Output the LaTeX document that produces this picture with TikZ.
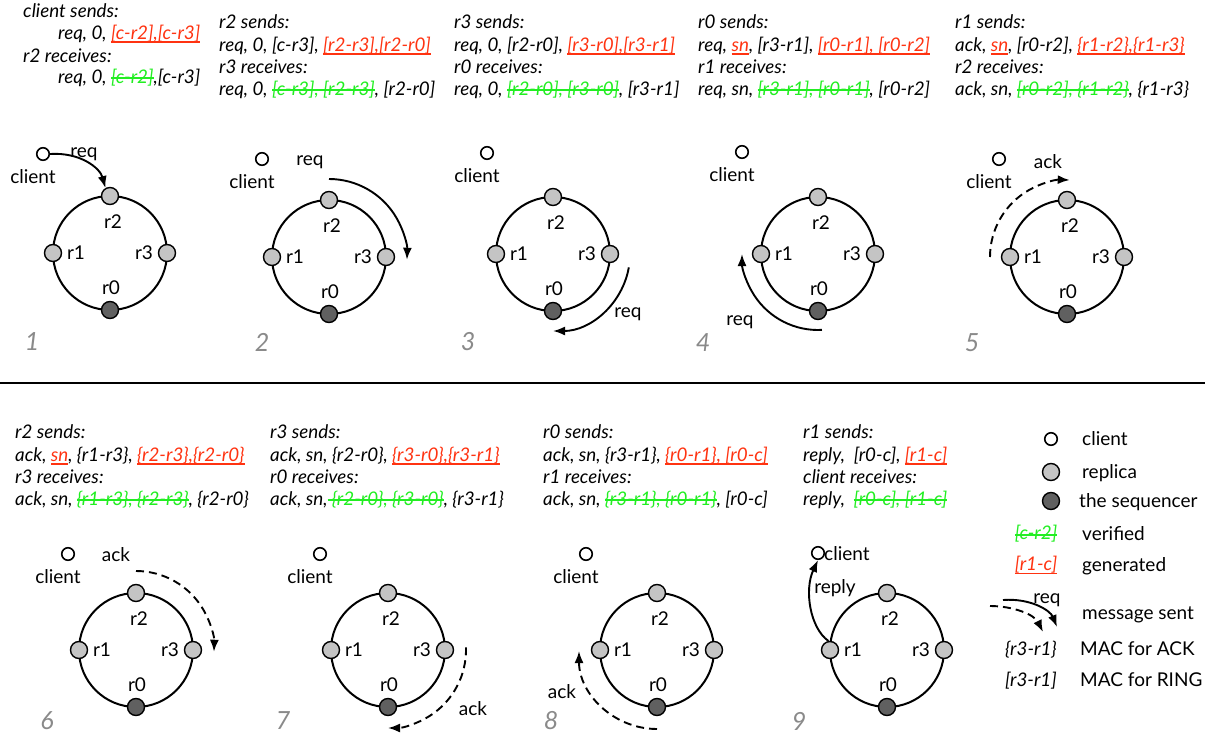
\documentclass[tikz,border=0pt]{standalone}
\usepackage{fontspec}
\usetikzlibrary{arrows.meta}
\setmainfont{Lato}
\definecolor{genred}{HTML}{FF3311}
\definecolor{vergreen}{HTML}{22EE22}
\definecolor{repgray}{HTML}{C4C4C4}
\definecolor{seqgray}{HTML}{606060}
\definecolor{numgray}{HTML}{8A8A8A}
\newsavebox\markbox
\newcommand\gen[1]{\textcolor{genred}{\sbox\markbox{#1}\rlap{\rule[-3.5pt]{\wd\markbox}{1.4pt}}\usebox\markbox}}
\newcommand\ver[1]{\textcolor{vergreen}{\sbox\markbox{#1}\rlap{\rule[4.2pt]{\wd\markbox}{1.5pt}}\usebox\markbox}}
\newcommand\txfont{\fontsize{18.8}{22}\selectfont\itshape}
\newcommand\lbfont{\fontsize{19}{22}\selectfont}
\newcommand\numfont{\fontsize{25}{25}\selectfont\itshape}
\tikzset{
  ring/.style={line width=2pt},
  rep/.style={circle, draw, line width=1.4pt, fill=repgray, minimum size=17pt, inner sep=0pt},
  seq/.style={rep, fill=seqgray},
  cli/.style={circle, draw, line width=1.6pt, fill=white, minimum size=12.5pt, inner sep=0pt},
  lbl/.style={font=\lbfont, inner sep=0pt},
  msg/.style={line width=1.9pt, -{Latex[length=12pt,width=9pt]}},
  dmsg/.style={msg, dash pattern=on 8pt off 5pt},
  txt/.style={anchor=base west, inner sep=0pt, font=\txfont},
  leg/.style={anchor=base west, inner sep=0pt, font=\lbfont},
  num/.style={font=\numfont, text=numgray, inner sep=0pt}
}
\newcommand\ringpanel[3]{%
  \coordinate (#1o) at (#2,#3);
  \draw[ring] (#1o) circle[radius=57pt];
  \node[rep] (#1r2) at (#2,#3-57) {};
  \node[rep] (#1r1) at (#2-57,#3) {};
  \node[rep] (#1r3) at (#2+57,#3) {};
  \node[seq] (#1r0) at (#2,#3+57) {};
  \node[lbl] (#1l2) at (#2+3,#3-31) {r2};
  \node[lbl] (#1l1) at (#2-34,#3) {r1};
  \node[lbl] (#1l3) at (#2+34,#3) {r3};
  \node[lbl] (#1l0) at (#2+1,#3+35) {r0};
}
\newcommand\clientat[3]{%
  \node[cli] (#1c) at (#2,#3) {};
  \node[lbl] (#1cl) at (#2-10,#3+23) {client};
}
\begin{document}
\begin{tikzpicture}[x=1pt,y=-1pt]
\useasboundingbox (0,0) rectangle (1211,736);

% ---------- texts top row ----------
\node[txt] (t1a) at (23,17) {client sends:};
\node[txt] (t1b) at (58,39) {req, 0, \gen{[c-r2],[c-r3]}};
\node[txt] (t1c) at (23,62) {r2 receives:};
\node[txt] (t1d) at (58,83) {req, 0, \ver{[c-r2]},[c-r3]};

\node[txt] (t2a) at (219,28) {r2 sends:};
\node[txt] (t2b) at (219,51) {req, 0, [c-r3], \gen{[r2-r3],[r2-r0]}};
\node[txt] (t2c) at (219,73) {r3 receives:};
\node[txt] (t2d) at (219,95) {req, 0, \ver{[c-r3], [r2-r3]}, [r2-r0]};

\node[txt] (t3a) at (454,28) {r3 sends:};
\node[txt] (t3b) at (454,51) {req, 0, [r2-r0], \gen{[r3-r0],[r3-r1]}};
\node[txt] (t3c) at (454,73) {r0 receives:};
\node[txt] (t3d) at (454,95) {req, 0, \ver{[r2-r0], [r3-r0]}, [r3-r1]};

\node[txt] (t4a) at (698,28) {r0 sends:};
\node[txt] (t4b) at (698,51) {req, \gen{sn}, [r3-r1], \gen{[r0-r1], [r0-r2]}};
\node[txt] (t4c) at (698,73) {r1 receives:};
\node[txt] (t4d) at (698,95) {req, sn, \ver{[r3-r1], [r0-r1]}, [r0-r2]};

\node[txt] (t5a) at (955,28) {r1 sends:};
\node[txt] (t5b) at (955,51) {ack, \gen{sn}, [r0-r2], \gen{\{r1-r2\},\{r1-r3\}}};
\node[txt] (t5c) at (955,73) {r2 receives:};
\node[txt] (t5d) at (955,95) {ack, sn, \ver{[r0-r2], \{r1-r2\}}, \{r1-r3\}};

% ---------- texts bottom row ----------
\node[txt] (t6a) at (15,438) {r2 sends:};
\node[txt] (t6b) at (15,461) {ack, \gen{sn}, \{r1-r3\}, \gen{\{r2-r3\},\{r2-r0\}}};
\node[txt] (t6c) at (15,483) {r3 receives:};
\node[txt] (t6d) at (15,505) {ack, sn, \ver{\{r1-r3\}, \{r2-r3\}}, \{r2-r0\}};

\node[txt] (t7a) at (270,438) {r3 sends:};
\node[txt] (t7b) at (270,461) {ack, sn, \{r2-r0\}, \gen{\{r3-r0\},\{r3-r1\}}};
\node[txt] (t7c) at (270,483) {r0 receives:};
\node[txt] (t7d) at (270,505) {ack, sn,\ver{ \{r2-r0\}, \{r3-r0\}}, \{r3-r1\}};

\node[txt] (t8a) at (543,438) {r0 sends:};
\node[txt] (t8b) at (543,461) {ack, sn, \{r3-r1\}, \gen{\{r0-r1\}, [r0-c]}};
\node[txt] (t8c) at (543,483) {r1 receives:};
\node[txt] (t8d) at (543,505) {ack, sn, \ver{\{r3-r1\}, \{r0-r1\}}, [r0-c]};

\node[txt] (t9a) at (803,438) {r1 sends:};
\node[txt] (t9b) at (803,461) {reply,\ \ [r0-c], \gen{[r1-c]}};
\node[txt] (t9c) at (803,483) {client receives:};
\node[txt] (t9d) at (803,505) {reply,\ \ \ver{[r0-c], [r1-c]}};

% ---------- rings ----------
\ringpanel{p1}{110}{253}
\ringpanel{p2}{329}{257}
\ringpanel{p3}{553}{254}
\ringpanel{p4}{818}{254}
\ringpanel{p5}{1067}{257}
\ringpanel{p6}{136}{650}
\ringpanel{p7}{388}{650}
\ringpanel{p8}{657}{650}
\ringpanel{p9}{887}{650}

\clientat{p1}{43}{154}
\clientat{p2}{262}{159}
\clientat{p3}{487}{153}
\clientat{p4}{742}{152}
\clientat{p5}{999}{159}
\clientat{p6}{68}{554}
\clientat{p7}{320}{554}
\clientat{p8}{586}{554}
\node[cli] (p9c) at (818,553) {};
\node[lbl, anchor=west] (p9cl) at (824,554) {client};

% ---------- messages ----------
\draw[msg] (p1c.east) .. controls (80,152) and (100,168) .. (p1r2.120);
\node[lbl] (m1) at (84,154) {req};
\draw[msg] ([shift={(90:78pt)}]p2o) arc[start angle=90, end angle=-2, radius=78pt];
\node[lbl] (m2) at (310,162) {req};
\draw[msg] ([shift={(-10:77pt)}]p3o) arc[start angle=-10, end angle=-90, radius=77pt];
\node[lbl] (m3) at (628,314) {req};
\draw[msg] ([shift={(-87:76pt)}]p4o) arc[start angle=-87, end angle=-180, radius=76pt];
\node[lbl] (m4) at (740,322) {req};
\draw[dmsg] ([shift={(180:77pt)}]p5o) arc[start angle=180, end angle=88, radius=77pt];
\node[lbl] (m5) at (1048,162) {ack};
\draw[dmsg] ([shift={(90:79pt)}]p6o) arc[start angle=90, end angle=-2, radius=78pt];
\node[lbl] (m6) at (116,555) {ack};
\draw[dmsg] ([shift={(2:78pt)}]p7o) arc[start angle=2, end angle=-90, radius=78pt];
\node[lbl] (m7) at (473,709) {ack};
\draw[dmsg] ([shift={(-90:79pt)}]p8o) arc[start angle=-90, end angle=-180, radius=78pt];
\node[lbl] (m8) at (562,692) {ack};
\draw[msg] (p9r1.100) .. controls (810,628) and (804,590) .. (p9c.south);
\node[lbl] (m9) at (835,588) {reply};

% ---------- numbers ----------
\node[num] (n1) at (32,342) {1};
\node[num] (n2) at (262,342) {2};
\node[num] (n3) at (468,342) {3};
\node[num] (n4) at (703,343) {4};
\node[num] (n5) at (972,343) {5};
\node[num] (n6) at (47,721) {6};
\node[num] (n7) at (283,721) {7};
\node[num] (n8) at (551,721) {8};
\node[num] (n9) at (799,721) {9};

% ---------- separator ----------
\draw[line width=2pt] (0,383) -- (1205,383);

% ---------- legend ----------
\node[cli] (lg1) at (1051,439) {};
\node[leg] (lg1t) at (1082,445) {client};
\node[rep] (lg2) at (1051,472) {};
\node[leg] (lg2t) at (1082,478) {replica};
\node[seq] (lg3) at (1051,501) {};
\node[leg] (lg3t) at (1079,507) {the sequencer};
\node[font=\txfont, inner sep=0pt] (lg4) at (1036,534) {\ver{[c-r2]}};
\node[leg] (lg4t) at (1082,540) {verified};
\node[font=\txfont, inner sep=0pt] (lg5) at (1036,565) {\gen{[r1-c]}};
\node[leg] (lg5t) at (1082,571) {generated};
\coordinate (la1) at (1003,600);
\coordinate (la2) at (1057,627);
\coordinate (lb1) at (990,606);
\coordinate (lb2) at (1043,632);
\draw[msg] (la1) .. controls (1030,598) and (1050,610) .. (la2);
\draw[dmsg] (lb1) .. controls (1012,606) and (1034,614) .. (lb2);
\node[lbl] (lgreq) at (1047,600) {req};
\node[leg] (lg6t) at (1082,619) {message sent};
\node[txt, anchor=base east] (lg7) at (1057,655) {\{r3-r1\}};
\node[leg] (lg7t) at (1080,655) {MAC for ACK};
\node[txt, anchor=base east] (lg8) at (1057,686) {[r3-r1]};
\node[leg] (lg8t) at (1080,686) {MAC for RING};
\end{tikzpicture}
\end{document}
